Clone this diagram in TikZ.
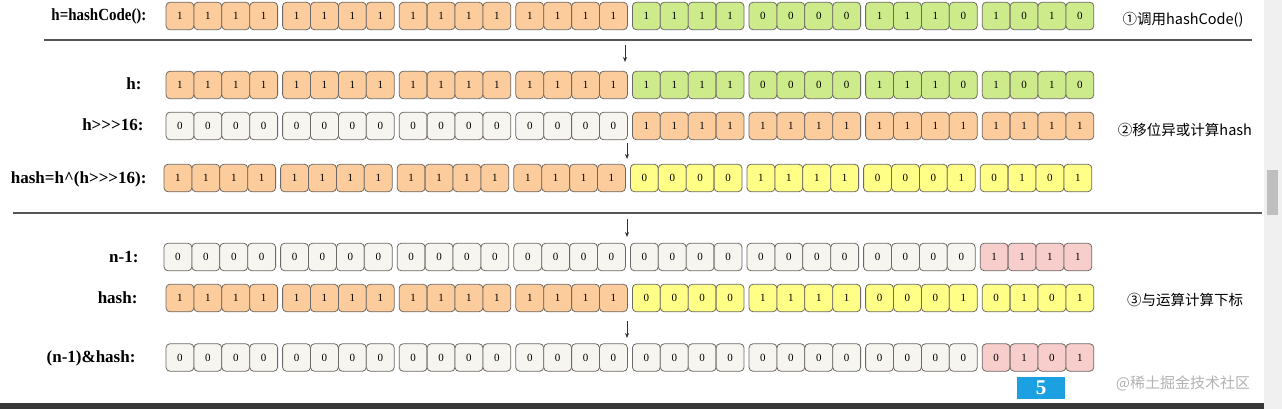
\documentclass[tikz,border=0pt]{standalone}
\usepackage{fontspec}
\setmainfont{Liberation Serif}[Ligatures=TeXOff]
\newfontfamily\cjk{Noto Sans CJK SC}
\usepackage{xcolor}
\definecolor{BitOrange}{RGB}{252,204,156}
\definecolor{BitGreen} {RGB}{205,235,139}
\definecolor{BitGray}  {RGB}{246,245,240}
\definecolor{BitYellow}{RGB}{255,255,136}
\definecolor{BitPink}  {RGB}{248,206,204}
\definecolor{BitLine}  {RGB}{110,105,100}
\definecolor{IdxBlue}  {RGB}{27,161,226}
\definecolor{RuleGray} {RGB}{85,85,85}
\usetikzlibrary{arrows.meta}

\begin{document}
\begin{tikzpicture}[
  x=1pt, y=-1pt,
  bit/.style={
    draw=BitLine, rounded corners=4pt,
    line width=0.8pt, inner sep=0pt,
    minimum width=27.9pt, minimum height=27.5pt,
    font=\fontsize{11}{12}\selectfont
  },
  lbl/.style={anchor=base east,
    font=\fontsize{17}{20}\selectfont\bfseries},
  note/.style={font=\cjk\fontsize{14.5}{16}\selectfont},
  arrow/.style={
    -{Stealth[length=5pt,width=4pt]},
    line width=0.8pt, black!80},
  rule/.style={line width=1.2pt, RuleGray}
]
\useasboundingbox (0,0) rectangle (1282,409);

% window frame
\fill[black!6] (1264,0) rectangle (1282,409);
\fill[black!25] (1267,170) rectangle (1278,215);
\fill[black!78] (0,403) rectangle (1264,409);

% (1) h = hashCode()
\node[lbl] (lhc) at (150,21) {\scalebox{0.88}[1]{h=hashCode():}};
\foreach \g/\ba/\bb/\bc/\bd/\s in {0/1/1/1/1/BitOrange,1/1/1/1/1/BitOrange,
  2/1/1/1/1/BitOrange,3/1/1/1/1/BitOrange,4/1/1/1/1/BitGreen,
  5/0/0/0/0/BitGreen,6/1/1/1/0/BitGreen,7/1/0/1/0/BitGreen}
  \foreach \k/\v in {0/\ba,1/\bb,2/\bc,3/\bd}
    \node[bit, fill=\s] (hc\g\k) at ({166+116.6*\g+27.9*\k+13.95},16) {\v};
\node[note] (n1) at (1183,20) {①调用hashCode()};

\draw[rule] (44,40) -- (1252,40);

% (2) h ^ (h >>> 16)
\node[lbl] (lh) at (145,90) {h:};
\foreach \g/\ba/\bb/\bc/\bd/\s in {0/1/1/1/1/BitOrange,1/1/1/1/1/BitOrange,
  2/1/1/1/1/BitOrange,3/1/1/1/1/BitOrange,4/1/1/1/1/BitGreen,
  5/0/0/0/0/BitGreen,6/1/1/1/0/BitGreen,7/1/0/1/0/BitGreen}
  \foreach \k/\v in {0/\ba,1/\bb,2/\bc,3/\bd}
    \node[bit, fill=\s] (h\g\k) at ({166+116.6*\g+27.9*\k+13.95},85) {\v};

\node[lbl] (lsh) at (147,131) {h>>>16:};
\foreach \g/\ba/\bb/\bc/\bd/\s in {0/0/0/0/0/BitGray,1/0/0/0/0/BitGray,
  2/0/0/0/0/BitGray,3/0/0/0/0/BitGray,4/1/1/1/1/BitOrange,
  5/1/1/1/1/BitOrange,6/1/1/1/1/BitOrange,7/1/1/1/1/BitOrange}
  \foreach \k/\v in {0/\ba,1/\bb,2/\bc,3/\bd}
    \node[bit, fill=\s] (sh\g\k) at ({166+116.6*\g+27.9*\k+13.95},126) {\v};
\node[note] (n2) at (1185,130) {②移位异或计算hash};

\node[lbl] (lhs) at (150,183) {hash=h\textasciicircum(h>>>16):};
\foreach \g/\ba/\bb/\bc/\bd/\s in {0/1/1/1/1/BitOrange,1/1/1/1/1/BitOrange,
  2/1/1/1/1/BitOrange,3/1/1/1/1/BitOrange,4/0/0/0/0/BitYellow,
  5/1/1/1/1/BitYellow,6/0/0/0/1/BitYellow,7/0/1/0/1/BitYellow}
  \foreach \k/\v in {0/\ba,1/\bb,2/\bc,3/\bd}
    \node[bit, fill=\s] (hs\g\k) at ({164+116.6*\g+27.9*\k+13.95},178) {\v};

\draw[rule] (13,213) -- (1262,213);

% (3) (n-1) & hash
\node[lbl] (lnm) at (142,262) {n-1:};
\foreach \g/\ba/\bb/\bc/\bd/\s in {0/0/0/0/0/BitGray,1/0/0/0/0/BitGray,
  2/0/0/0/0/BitGray,3/0/0/0/0/BitGray,4/0/0/0/0/BitGray,
  5/0/0/0/0/BitGray,6/0/0/0/0/BitGray,7/1/1/1/1/BitPink}
  \foreach \k/\v in {0/\ba,1/\bb,2/\bc,3/\bd}
    \node[bit, fill=\s] (nm\g\k) at ({164+116.6*\g+27.9*\k+13.95},257) {\v};

\node[lbl] (lhb) at (141,303) {hash:};
\foreach \g/\ba/\bb/\bc/\bd/\s in {0/1/1/1/1/BitOrange,1/1/1/1/1/BitOrange,
  2/1/1/1/1/BitOrange,3/1/1/1/1/BitOrange,4/0/0/0/0/BitYellow,
  5/1/1/1/1/BitYellow,6/0/0/0/1/BitYellow,7/0/1/0/1/BitYellow}
  \foreach \k/\v in {0/\ba,1/\bb,2/\bc,3/\bd}
    \node[bit, fill=\s] (hb\g\k) at ({166+116.6*\g+27.9*\k+13.95},298) {\v};
\node[note] (n3) at (1185,300) {③与运算计算下标};

\node[lbl] (lix) at (139,362) {(n-1)\&hash:};
\foreach \g/\ba/\bb/\bc/\bd/\s in {0/0/0/0/0/BitGray,1/0/0/0/0/BitGray,
  2/0/0/0/0/BitGray,3/0/0/0/0/BitGray,4/0/0/0/0/BitGray,
  5/0/0/0/0/BitGray,6/0/0/0/0/BitGray,7/0/1/0/1/BitPink}
  \foreach \k/\v in {0/\ba,1/\bb,2/\bc,3/\bd}
    \node[bit, fill=\s] (ix\g\k) at ({166+116.6*\g+27.9*\k+13.95},357.5) {\v};

\node[fill=IdxBlue, text=white, minimum width=48pt, minimum height=22pt,
  inner sep=0pt, font=\fontsize{21}{22}\selectfont\bfseries] (idx)
  at (1041,388) {5};
\node[font=\cjk\fontsize{15}{16}\selectfont, text=black!30] (wm)
  at (1183,383) {@稀土掘金技术社区};

% down arrows
\coordinate (s1) at (625,45);  \coordinate (e1) at (625,62);
\coordinate (s2) at (627,143); \coordinate (e2) at (627,159);
\coordinate (s3) at (627,219); \coordinate (e3) at (627,237);
\coordinate (s4) at (627,321); \coordinate (e4) at (627,338);
\foreach \i in {1,...,4}
  \draw[arrow] (s\i) -- (e\i);
\end{tikzpicture}
\end{document}
